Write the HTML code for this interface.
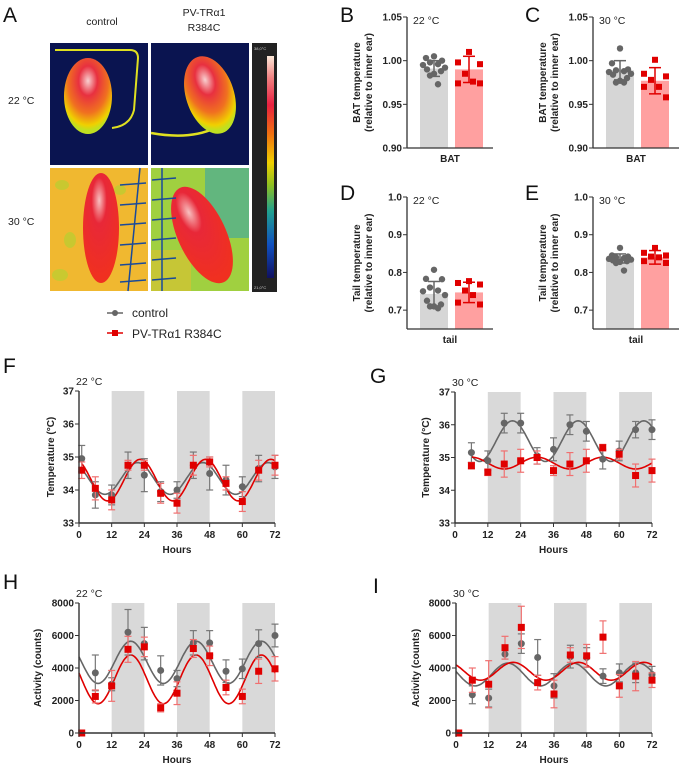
<!DOCTYPE html>
<html><head><meta charset="utf-8"><style>
body{margin:0;background:#fff;}
svg{display:block;font-family:"Liberation Sans",Arial,sans-serif;}
.t{font-weight:bold;font-size:10px;fill:#222}
.r{font-size:10.5px;fill:#222}
.L{font-size:21px;fill:#111}
</style></head><body>
<svg id="fig" width="686" height="769" viewBox="0 0 686 769">
<defs>
<linearGradient id="cb" x1="0" y1="1" x2="0" y2="0">
<stop offset="0" stop-color="#101060"/><stop offset="0.15" stop-color="#1050c0"/><stop offset="0.3" stop-color="#20a090"/><stop offset="0.42" stop-color="#90c020"/><stop offset="0.52" stop-color="#f0d000"/><stop offset="0.65" stop-color="#f07010"/><stop offset="0.78" stop-color="#e82040"/><stop offset="0.9" stop-color="#f08080"/><stop offset="1" stop-color="#fbe8d8"/></linearGradient>
<radialGradient id="mouse" cx="0.5" cy="0.3" r="0.65"><stop offset="0" stop-color="#f8d0d0"/><stop offset="0.3" stop-color="#e83040"/><stop offset="0.65" stop-color="#f07020"/><stop offset="0.9" stop-color="#f0d000"/><stop offset="1" stop-color="#c0e020"/></radialGradient>
<radialGradient id="mouse2" cx="0.45" cy="0.25" r="0.7"><stop offset="0" stop-color="#f8c0c0"/><stop offset="0.3" stop-color="#e82838"/><stop offset="1" stop-color="#f03020"/></radialGradient>
</defs>
<g>
<text class="L" x="3" y="22">A</text>
<text class="r" x="102" y="25" text-anchor="middle">control</text>
<text class="r" x="204" y="16" text-anchor="middle">PV-TRα1</text>
<text class="r" x="204" y="31" text-anchor="middle">R384C</text>
<text class="r" x="8" y="104">22 °C</text>
<text class="r" x="8" y="225">30 °C</text>
<rect x="50" y="43" width="98" height="122" fill="#0a1450"/>
<path d="M112 128 Q130 126 134 110 L138 58 Q138 50 130 50 L55 50" stroke="#e0e020" stroke-width="2" fill="none"/>
<ellipse cx="88" cy="96" rx="24" ry="38" fill="url(#mouse)"/>
<rect x="151" y="43" width="98" height="122" fill="#0a1450"/>
<path d="M151 133 Q190 140 215 128" stroke="#e0e020" stroke-width="2.5" fill="none"/>
<ellipse cx="210" cy="95" rx="24" ry="40" transform="rotate(-18 210 95)" fill="url(#mouse)"/>
<rect x="50" y="168" width="98" height="123" fill="#f0b830"/>
<g fill="#b8d030" opacity="0.7"><ellipse cx="62" cy="185" rx="7" ry="5"/><ellipse cx="70" cy="240" rx="6" ry="8"/><ellipse cx="60" cy="275" rx="8" ry="6"/><ellipse cx="120" cy="190" rx="6" ry="5"/></g>
<ellipse cx="101" cy="228" rx="18" ry="55" fill="url(#mouse2)"/>
<g stroke="#1a4a9a" stroke-width="1.5"><line x1="140" y1="168" x2="128" y2="291"/><line x1="120" y1="185" x2="146" y2="183"/><line x1="120" y1="205" x2="146" y2="203"/><line x1="120" y1="225" x2="146" y2="223"/><line x1="120" y1="245" x2="146" y2="243"/><line x1="120" y1="265" x2="146" y2="263"/><line x1="120" y1="282" x2="146" y2="280"/></g>
<rect x="151" y="168" width="98" height="123" fill="#a0d040"/>
<rect x="205" y="168" width="44" height="70" fill="#30a0b0" opacity="0.55"/>
<rect x="151" y="250" width="40" height="41" fill="#e0c030" opacity="0.6"/>
<ellipse cx="202" cy="235" rx="24" ry="52" transform="rotate(-25 202 235)" fill="url(#mouse2)"/>
<g stroke="#1a4a9a" stroke-width="1.5"><line x1="162" y1="168" x2="162" y2="291"/><line x1="152" y1="180" x2="176" y2="178"/><line x1="152" y1="200" x2="176" y2="198"/><line x1="152" y1="220" x2="176" y2="218"/><line x1="152" y1="240" x2="176" y2="238"/><line x1="152" y1="260" x2="176" y2="258"/><line x1="152" y1="280" x2="176" y2="278"/></g>
<rect x="252" y="43" width="25" height="249" fill="#222"/>
<rect x="267" y="56" width="7" height="222" fill="url(#cb)"/>
<text x="254" y="50" font-size="4" fill="#ccc">38,0°C</text><text x="254" y="289" font-size="4" fill="#ccc">21,0°C</text>
</g>
<g>
<line x1="107" y1="313" x2="123" y2="313" stroke="#666" stroke-width="1.5"/><circle cx="115" cy="313" r="3" fill="#666"/>
<text x="132" y="317" font-size="12" fill="#222">control</text>
<line x1="107" y1="333" x2="123" y2="333" stroke="#e00000" stroke-width="1.5"/><rect x="112" y="330" width="6" height="6" fill="#e00000"/>
<text x="132" y="338" font-size="12" fill="#222">PV-TRα1 R384C</text>
</g>
<text class="L" x="340" y="22">B</text>
<text class="L" x="525" y="22">C</text>
<text class="L" x="340" y="200">D</text>
<text class="L" x="525" y="200">E</text>
<text class="L" x="3" y="373">F</text>
<text class="L" x="370" y="383">G</text>
<text class="L" x="3" y="589">H</text>
<text class="L" x="373" y="593">I</text>
</svg>
<script>
const NS="http://www.w3.org/2000/svg";
const fig=document.getElementById('fig');
function mk(tag,attrs,parent,txt){const e=document.createElementNS(NS,tag);for(const k in attrs)e.setAttribute(k,attrs[k]);if(txt!==undefined)e.textContent=txt;(parent||fig).appendChild(e);return e;}
const GRAY="#666",RED="#e00000";

// ---- Bar chart data ----
const bCtrl=[1.005,1.003,1.0,0.998,0.996,0.995,0.992,0.99,0.988,0.985,0.983,0.973];
const bMut=[1.01,0.998,0.996,0.985,0.976,0.974,0.974];
const bMeans=[0.991,0.99];const bSd=[0.009,0.015];
const cCtrl=[1.014,0.997,0.99,0.989,0.988,0.987,0.985,0.984,0.98,0.977,0.975,0.975];
const cMut=[1.001,0.985,0.982,0.978,0.97,0.97,0.958];
const cMeans=[0.989,0.977];const cSd=[0.011,0.015];
const dCtrl=[0.807,0.783,0.782,0.76,0.752,0.75,0.74,0.725,0.715,0.71,0.71,0.705];
const dMut=[0.777,0.772,0.768,0.752,0.74,0.72,0.715];
const dMeans=[0.743,0.747];const dSd=[0.033,0.027];
const eCtrl=[0.865,0.845,0.842,0.84,0.838,0.836,0.834,0.832,0.83,0.828,0.825,0.805];
const eMut=[0.865,0.852,0.845,0.842,0.84,0.83,0.825];
const eMeans=[0.837,0.84];const eSd=[0.012,0.018];

function barChart(name,ax,yTop,yBot,vmin,vmax,ticks,tickFmt,ctrl,mut,means,sd,title,ylab,xlab){
 const g=mk('g',{});
 
 
 const Y=v=>yBot-(v-vmin)/(vmax-vmin)*(yBot-yTop);
 const xs=[ax+13,ax+48],bw=28;
 [ctrl,mut].forEach((pts,i)=>{
  const b=mk('rect',{x:xs[i],y:Y(means[i]),width:bw,height:yBot-Y(means[i]),fill:i?'#ffa0a0':'#d6d6d6'},g);
  
  
  const cx=xs[i]+bw/2,col=i?RED:GRAY;
  mk('line',{x1:cx,x2:cx,y1:Y(means[i]+sd[i]),y2:Y(means[i]-sd[i]),stroke:col,'stroke-width':1.5},g);
  [1,-1].forEach(s=>mk('line',{x1:cx-6,x2:cx+6,y1:Y(means[i]+s*sd[i]),y2:Y(means[i]+s*sd[i]),stroke:col,'stroke-width':1.5},g));
  const pat=[0,-8,8,-4,4,-11,11,-7,7,0,-4,4];
  pts.forEach((v,j)=>{const off=i?[0,-11,11,-4,4,-11,11][j%7]:pat[j];
   let p;if(i){p=mk('rect',{x:cx+off-3,y:Y(v)-3,width:6,height:6,fill:RED},g);}else{p=mk('circle',{cx:cx+off,cy:Y(v),r:3.2,fill:GRAY},g);}
   
   });
 });
 mk('line',{x1:ax,x2:ax,y1:yTop,y2:yBot,stroke:'#333','stroke-width':1.3},g);
 mk('line',{x1:ax,x2:ax+86,y1:yBot,y2:yBot,stroke:'#333','stroke-width':1.3},g);
 ticks.forEach(t=>{mk('line',{x1:ax-4,x2:ax,y1:Y(t),y2:Y(t),stroke:'#333'},g);
  mk('text',{class:'t',x:ax-5,y:Y(t)+3.5,'text-anchor':'end'},g,tickFmt(t));});
 mk('text',{class:'r',x:ax+6,y:yTop+7},g,title);
 const yc=(yTop+yBot)/2;
 mk('text',{class:'t',transform:`translate(${ax-47},${yc}) rotate(-90)`,'text-anchor':'middle'},g,ylab);
 mk('text',{class:'t',transform:`translate(${ax-35},${yc}) rotate(-90)`,'text-anchor':'middle'},g,'(relative to inner ear)');
 mk('text',{class:'t',x:ax+43,y:yBot+14,'text-anchor':'middle'},g,xlab);
}
const bt=[0.9,0.95,1.0,1.05],dt=[0.7,0.8,0.9,1.0];
barChart('chart-b-bat-22',407,17,148,0.9,1.05,bt,t=>t.toFixed(2),bCtrl,bMut,bMeans,bSd,'22 °C','BAT temperature','BAT');
barChart('chart-c-bat-30',593,17,148,0.9,1.05,bt,t=>t.toFixed(2),cCtrl,cMut,cMeans,cSd,'30 °C','BAT temperature','BAT');
barChart('chart-d-tail-22',407,197,329,0.65,1.0,dt,t=>t.toFixed(1),dCtrl,dMut,dMeans,dSd,'22 °C','Tail temperature','tail');
barChart('chart-e-tail-30',593,197,329,0.65,1.0,dt,t=>t.toFixed(1),eCtrl,eMut,eMeans,eSd,'30 °C','Tail temperature','tail');

// ---- Time series data ----
const hoursF=[1,6,12,18,24,30,36,42,48,54,60,66,72];
const fGray=[34.95,33.85,33.85,34.75,34.45,33.95,34.0,34.75,34.5,34.3,34.1,34.65,34.7];
const fGrayErr=[0.4,0.4,0.3,0.4,0.5,0.3,0.25,0.4,0.5,0.45,0.3,0.4,0.35];
const fRed=[34.6,34.05,33.7,34.75,34.75,33.9,33.6,34.75,34.85,34.2,33.65,34.6,34.75];
const fRedErr=[0.25,0.35,0.3,0.15,0.15,0.3,0.3,0.3,0.15,0.2,0.3,0.3,0.3];
const fFit=[[34.35,0.48,21.5],[34.3,0.63,22.5]]; // mean, amplitude, peak hour

const hoursG=[6,12,18,24,30,36,42,48,54,60,66,72];
const gGray=[35.15,34.9,36.05,36.05,35.05,35.25,36.0,35.8,34.95,35.2,35.85,35.85];
const gGrayErr=[0.3,0.3,0.3,0.3,0.25,0.35,0.3,0.3,0.3,0.3,0.25,0.3];
const gRed=[34.75,34.55,34.8,34.9,35.0,34.6,34.8,34.9,35.3,35.1,34.45,34.6];
const gRedErr=[0.1,0.1,0.4,0.35,0.2,0.15,0.35,0.35,0.1,0.15,0.35,0.35];
const gFit=[[35.5,0.62,21],[34.83,0.18,30]];

const hoursH=[1,6,12,18,24,30,36,42,48,54,60,66,72];
const hGray=[0,3700,3000,6200,5500,3850,3350,5550,5550,3800,3950,5500,6000];
const hGrayErr=[0,1100,400,1400,1000,900,500,750,750,700,600,850,700];
const hRed=[0,2250,2900,5150,5300,1550,2450,5200,4750,2800,2250,3800,3950];
const hRedErr=[0,400,950,800,600,250,700,550,600,450,450,750,750];
const hFit=[[4350,1300,19],[3300,1500,19]];

const hoursI=[1,6,12,18,24,30,36,42,48,54,60,66,72];
const iGray=[0,2350,2150,4850,5500,4650,2900,4700,4650,3500,3700,3700,3600];
const iGrayErr=[0,550,550,300,600,1100,750,700,600,450,550,600,500];
const iRed=[0,3250,3000,5250,6500,3100,2400,4800,4750,5900,2900,3500,3250];
const iRedErr=[0,750,1450,700,1300,450,850,450,700,1000,700,900,450];
const iFit=[[3600,700,19],[3800,550,21]];

const xTicks=[0,12,24,36,48,60,72];
const darkBands=[[12,24],[36,48],[60,72]];

function lineChart(name,x0,x1,yTop,yBot,vmin,vmax,yTicks,hours,gv,ge,rv,re,fit,title,ylab,ylabX,fitStart){
 const g=mk('g',{});
 
 
 const X=h=>x0+h/72*(x1-x0),Y=v=>yBot-(v-vmin)/(vmax-vmin)*(yBot-yTop);
 darkBands.forEach(b=>{const r=mk('rect',{x:X(b[0]),y:yTop,width:X(b[1])-X(b[0]),height:yBot-yTop,fill:'#d9d9d9'},g);
  
  });
 fit.forEach((f,i)=>{let d='';for(let h=fitStart;h<=72;h+=0.5){d+=(d?'L':'M')+X(h).toFixed(1)+' '+Y(f[0]+f[1]*Math.cos(2*Math.PI*(h-f[2])/24)).toFixed(1);}
  const p=mk('path',{d,fill:'none',stroke:i?RED:'#666','stroke-width':1.6},g);
  
  });
 [[gv,ge,GRAY,'#777'],[rv,re,RED,'#f07070']].forEach((s,i)=>{
  hours.forEach((h,j)=>{const cx=X(h),v=s[0][j],e=s[1][j];
   if(e>0){mk('line',{x1:cx,x2:cx,y1:Y(v+e),y2:Y(v-e),stroke:s[3],'stroke-width':1.2},g);
    [1,-1].forEach(k=>mk('line',{x1:cx-3.5,x2:cx+3.5,y1:Y(v+k*e),y2:Y(v+k*e),stroke:s[3],'stroke-width':1.2},g));}
   let p;if(i){p=mk('rect',{x:cx-3.5,y:Y(v)-3.5,width:7,height:7,fill:RED},g);}else{p=mk('circle',{cx,cy:Y(v),r:3.5,fill:GRAY},g);}
   
   });
 });
 mk('line',{x1:x0,x2:x0,y1:yTop,y2:yBot,stroke:'#333','stroke-width':1.4},g);
 mk('line',{x1:x0,x2:x1,y1:yBot,y2:yBot,stroke:'#333','stroke-width':1.4},g);
 yTicks.forEach(t=>{mk('line',{x1:x0-4,x2:x0,y1:Y(t),y2:Y(t),stroke:'#333'},g);
  mk('text',{class:'t',x:x0-5,y:Y(t)+3.5,'text-anchor':'end'},g,String(t));});
 xTicks.forEach(t=>{mk('line',{x1:X(t),x2:X(t),y1:yBot,y2:yBot+4,stroke:'#333'},g);
  mk('text',{class:'t',x:X(t),y:yBot+15,'text-anchor':'middle'},g,String(t));});
 mk('text',{class:'r',x:x0-3,y:yTop-6},g,title);
 mk('text',{class:'t',transform:`translate(${ylabX},${(yTop+yBot)/2}) rotate(-90)`,'text-anchor':'middle'},g,ylab);
 const hl=mk('text',{class:'t',x:(x0+x1)/2,y:yBot+30,'text-anchor':'middle'},g,'Hours');
 
 
}
lineChart('chart-f-temp-22',79,275,391,523,33,37,[33,34,35,36,37],hoursF,fGray,fGrayErr,fRed,fRedErr,fFit,'22 °C','Temperature (°C)',54,1);
lineChart('chart-g-temp-30',455,652,392,523,33,37,[33,34,35,36,37],hoursG,gGray,gGrayErr,gRed,gRedErr,gFit,'30 °C','Temperature (°C)',429,6);
lineChart('chart-h-activity-22',79,275,603,733,0,8000,[0,2000,4000,6000,8000],hoursH,hGray,hGrayErr,hRed,hRedErr,hFit,'22 °C','Activity (counts)',41,0);
lineChart('chart-i-activity-30',456,652,603,733,0,8000,[0,2000,4000,6000,8000],hoursI,iGray,iGrayErr,iRed,iRedErr,iFit,'30 °C','Activity (counts)',419,0);
</script>
</body></html>
